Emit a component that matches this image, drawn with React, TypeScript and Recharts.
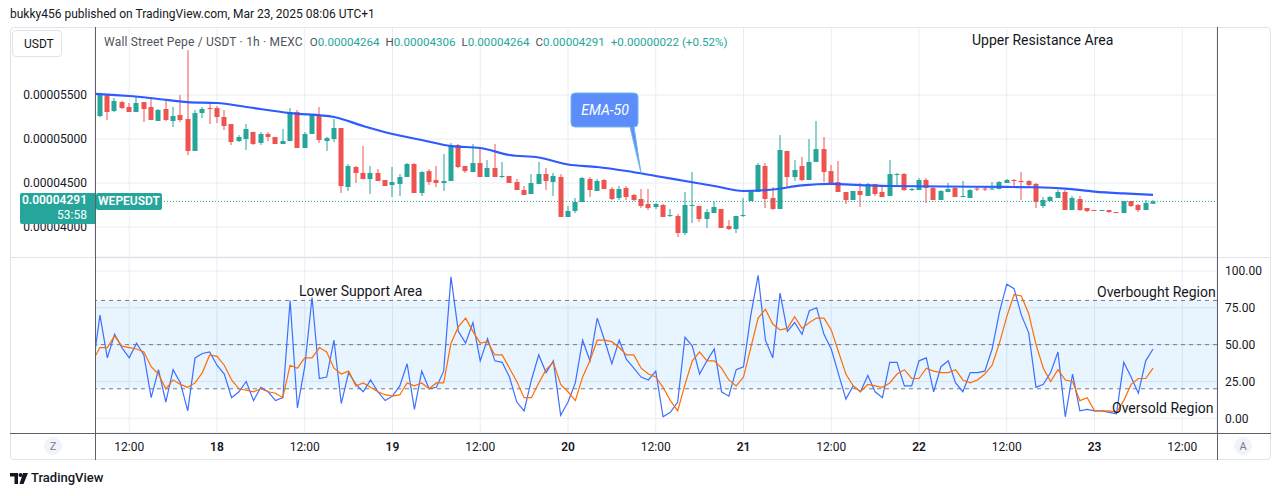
import React from "react";
import {
  ComposedChart,
  Bar,
  Line,
  XAxis,
  YAxis,
  CartesianGrid,
  ReferenceLine,
  ReferenceArea,
} from "recharts";

// WEPE/USDT 1h candles, Mar 17 08:00 -> Mar 23 08:00, prices in 1e-8 USDT
const opens = [
  5261, 5500, 5318, 5420, 5364, 5307, 5420, 5364, 5205, 5341, 5205, 5273, 5227, 4864, 5295, 5352, 5352, 5250, 5170, 4977,
  5000, 5080, 4955, 5057, 5023, 4943, 4977, 5307, 4898, 5057, 5273, 4977, 5000, 5125, 4455, 4682, 4614, 4545, 4614, 4534,
  4477, 4489, 4568, 4716, 4386, 4636, 4534, 4500, 4523, 4932, 4693, 4625, 4727, 4568, 4670, 4568, 4580, 4511, 4420, 4375,
  4489, 4602, 4511, 4568, 4114, 4182, 4284, 4545, 4409, 4534, 4432, 4330, 4443, 4364, 4318, 4261, 4227, 4250, 4125, 4125,
  3932, 4239, 4239, 4091, 4159, 4205, 4011, 3977, 4125, 4295, 4398, 4693, 4330, 4205, 4864, 4568, 4693, 4534, 4739, 4886,
  4636, 4511, 4398, 4307, 4409, 4352, 4489, 4398, 4352, 4591, 4602, 4420, 4420, 4534, 4443, 4307, 4398, 4443, 4341, 4330,
  4437, 4437, 4426, 4432, 4500, 4534, 4523, 4523, 4489, 4239, 4295, 4330, 4398, 4193, 4318, 4216, 4193, 4187, 4193, 4170,
  4159, 4295, 4250, 4193, 4264,
];
const highs = [
  5511, 5511, 5466, 5432, 5409, 5477, 5420, 5477, 5341, 5432, 5364, 5500, 6011, 5330, 5364, 5409, 5375, 5330, 5170, 5045,
  5170, 5080, 5080, 5080, 5023, 5114, 5352, 5330, 5080, 5284, 5364, 5023, 5227, 5125, 4716, 4693, 4920, 4693, 4659, 4534,
  4682, 4602, 4727, 4727, 4636, 4659, 4693, 4830, 4955, 4943, 4693, 4943, 4886, 4761, 4943, 4739, 4580, 4545, 4466, 4602,
  4739, 4670, 4614, 4602, 4239, 4330, 4568, 4568, 4545, 4545, 4455, 4466, 4466, 4375, 4432, 4432, 4273, 4261, 4205, 4148,
  4398, 4625, 4239, 4205, 4295, 4205, 4080, 4125, 4330, 4420, 4727, 4727, 4455, 5045, 4864, 4761, 4795, 5000, 5205, 5023,
  4705, 4750, 4398, 4409, 4500, 4500, 4489, 4466, 4761, 4614, 4614, 4443, 4557, 4557, 4455, 4420, 4500, 4455, 4523, 4432,
  4455, 4455, 4511, 4523, 4545, 4545, 4625, 4534, 4500, 4341, 4352, 4420, 4420, 4352, 4352, 4216, 4193, 4193, 4193, 4170,
  4295, 4295, 4261, 4307, 4306,
];
const lows = [
  5250, 5216, 5307, 5341, 5307, 5307, 5193, 5216, 5205, 5205, 5136, 5193, 4818, 4864, 5239, 5170, 5182, 5102, 4932, 4966,
  4875, 4932, 4932, 4977, 4943, 4943, 4977, 4898, 4898, 5057, 4955, 4864, 4966, 4386, 4409, 4500, 4545, 4375, 4523, 4466,
  4341, 4352, 4568, 4386, 4352, 4477, 4455, 4409, 4523, 4670, 4614, 4625, 4568, 4568, 4568, 4557, 4500, 4420, 4364, 4375,
  4489, 4420, 4352, 4114, 4114, 4159, 4284, 4341, 4409, 4432, 4307, 4307, 4307, 4295, 4216, 4193, 4205, 4114, 4114, 3886,
  3909, 4045, 4057, 3989, 4159, 3989, 3966, 3932, 4114, 4295, 4398, 4216, 4193, 4205, 4455, 4523, 4523, 4534, 4739, 4511,
  4500, 4398, 4261, 4307, 4227, 4352, 4352, 4341, 4352, 4455, 4409, 4409, 4420, 4273, 4307, 4307, 4398, 4341, 4341, 4330,
  4409, 4409, 4426, 4426, 4500, 4466, 4307, 4455, 4216, 4216, 4295, 4330, 4193, 4193, 4182, 4170, 4182, 4182, 4159, 4159,
  4159, 4227, 4170, 4193, 4264,
];
const closes = [
  5500, 5307, 5432, 5352, 5307, 5409, 5341, 5216, 5330, 5216, 5261, 5216, 4864, 5295, 5341, 5341, 5250, 5148, 4966, 5023,
  5114, 4943, 5057, 5023, 4943, 4977, 5307, 4898, 5057, 5273, 4989, 5011, 5125, 4466, 4693, 4614, 4545, 4614, 4523, 4466,
  4511, 4568, 4716, 4386, 4625, 4511, 4500, 4523, 4932, 4682, 4636, 4727, 4568, 4670, 4568, 4580, 4500, 4420, 4364, 4500,
  4602, 4523, 4580, 4114, 4182, 4284, 4557, 4420, 4523, 4432, 4318, 4432, 4341, 4307, 4239, 4216, 4261, 4114, 4136, 3932,
  4250, 4250, 4091, 4170, 4227, 3989, 3977, 4125, 4136, 4409, 4705, 4318, 4205, 4875, 4568, 4648, 4534, 4739, 4886, 4625,
  4500, 4398, 4307, 4409, 4364, 4489, 4375, 4341, 4602, 4602, 4420, 4432, 4534, 4443, 4307, 4409, 4432, 4341, 4352, 4420,
  4426, 4426, 4437, 4511, 4534, 4523, 4511, 4477, 4284, 4307, 4341, 4398, 4193, 4330, 4193, 4182, 4187, 4193, 4170, 4159,
  4295, 4239, 4193, 4273, 4291,
];

// EMA-50 read at some candles
const emaIdx = [-1, 0, 4, 8, 12, 16, 20, 26, 32, 36, 40, 44, 48, 52, 56, 60, 64, 68, 72, 76, 80, 84, 88, 92, 96, 100, 104, 108, 116, 124, 128, 132, 136, 140, 144];
const emaVals = [5515, 5511, 5489, 5455, 5420, 5409, 5364, 5295, 5250, 5148, 5057, 4989, 4920, 4898, 4818, 4790, 4710, 4682, 4636, 4580, 4523, 4466, 4409, 4426, 4472, 4489, 4477, 4466, 4460, 4455, 4452, 4437, 4403, 4381, 4364];

// Stochastic RSI (%K, %D); the lead values belong to the bar just left of the pane
const leadK = 34;
const leadD = 39;
const stochK = [
  70, 41, 57, 48, 41, 51, 43, 14, 33, 11, 33, 24, 5, 41, 44, 45, 36, 30, 14, 18,
  25, 12, 21, 18, 12, 14, 80, 7, 35, 82, 27, 28, 53, 10, 31, 23, 18, 26, 18, 12,
  15, 22, 37, 6, 32, 20, 21, 32, 96, 59, 51, 65, 39, 54, 39, 38, 28, 11, 5, 26,
  43, 31, 39, 2, 11, 24, 53, 39, 68, 53, 37, 53, 40, 34, 28, 26, 32, 1, 4, 11,
  55, 49, 30, 39, 47, 18, 15, 33, 35, 70, 97, 53, 41, 85, 59, 65, 57, 73, 75, 57,
  47, 30, 13, 22, 18, 29, 18, 14, 38, 38, 22, 22, 39, 41, 18, 35, 39, 24, 18, 31,
  31, 32, 47, 72, 91, 88, 70, 58, 21, 23, 31, 45, 1, 30, 5, 6, 5, 5, 4, 3,
  38, 28, 17, 39, 47,
];
const stochD = [
  48, 48, 56, 49, 48, 47, 45, 35, 30, 20, 26, 23, 21, 24, 31, 43, 42, 36, 26, 20,
  19, 18, 20, 18, 17, 14, 36, 34, 41, 41, 48, 45, 34, 30, 32, 22, 24, 21, 18, 16,
  15, 16, 24, 22, 24, 20, 24, 24, 51, 62, 68, 59, 51, 52, 43, 43, 34, 25, 14, 14,
  24, 33, 38, 23, 18, 12, 28, 39, 53, 53, 52, 48, 43, 43, 34, 30, 28, 21, 12, 5,
  23, 39, 45, 39, 39, 34, 26, 22, 28, 48, 68, 74, 64, 60, 61, 69, 61, 65, 68, 68,
  60, 45, 30, 22, 18, 23, 22, 21, 24, 30, 33, 27, 27, 34, 32, 31, 31, 33, 26, 24,
  26, 30, 36, 51, 69, 84, 83, 71, 50, 34, 25, 33, 26, 25, 12, 14, 5, 5, 5, 4,
  12, 23, 27, 27, 34,
];

const timeTicks = [4, 16, 28, 40, 52, 64, 76, 88, 100, 112, 124, 136, 148];
const timeLabels = ["12:00", "18", "12:00", "19", "12:00", "20", "12:00", "21", "12:00", "22", "12:00", "23", "12:00"];
const priceTicks = [4000, 4500, 5000, 5500];
const stochTicks = [0, 25, 50, 75, 100];

const GREEN = "#26a69a";
const RED = "#ef5350";
const GRID = "#e9edf3";
const TEXT = "#131722";
const X_DOMAIN: [number, number] = [-0.68, 152.75];

const emaMap = new Map(emaIdx.map((ix, j) => [ix, emaVals[j]]));
const data = [
  { i: -1, ema: emaMap.get(-1), k: leadK, d: leadD },
  ...opens.map((o, i) => ({
    i,
    open: o,
    high: highs[i],
    low: lows[i],
    close: closes[i],
    range: [lows[i], highs[i]],
    ema: emaMap.get(i),
    k: stochK[i],
    d: stochD[i],
  })),
];

function Candle(props: any) {
  const { x, y, width, height, payload } = props;
  if (!payload || payload.high == null) return null;
  const top = Math.min(y, y + height);
  const h = Math.abs(height);
  const span = payload.high - payload.low;
  const r = span > 0 ? h / span : 0;
  const yO = top + (payload.high - payload.open) * r;
  const yC = top + (payload.high - payload.close) * r;
  const color = payload.close >= payload.open ? GREEN : RED;
  const cx = Math.round(x + width / 2);
  return (
    <g>
      <rect x={cx - 0.5} y={top} width={1} height={Math.max(h, 1)} fill={color} />
      <rect x={cx - 2.5} y={Math.min(yO, yC)} width={5} height={Math.max(Math.abs(yO - yC), 1)} fill={color} />
    </g>
  );
}

function TimeTick(props: any) {
  const { x, y, payload } = props;
  const idx = timeTicks.indexOf(payload.value);
  const label = timeLabels[idx] ?? "";
  return (
    <text x={x} y={y + 10} textAnchor="middle" fontSize={12} fill={TEXT} fontWeight={label.length < 3 ? 600 : 400}>
      {label}
    </text>
  );
}

const abs = (left: number, top: number, extra: React.CSSProperties = {}): React.CSSProperties => ({
  position: "absolute",
  left,
  top,
  ...extra,
});

export default function App() {
  return (
    <div
      style={{
        position: "absolute",
        left: 0,
        top: 0,
        width: 1281,
        height: 496,
        background: "#fff",
        overflow: "hidden",
        fontFamily: "Roboto, 'Noto Sans', sans-serif",
        color: TEXT,
      }}
    >
      <div style={abs(10, 6, { fontSize: 12, lineHeight: "16px", whiteSpace: "nowrap" })}>
        bukky456 published on TradingView.com, Mar 23, 2025 08:06 UTC+1
      </div>

      {/* frame */}
      <div style={abs(10, 27, { width: 1259, height: 431, border: "1px solid #e0e3eb", borderRadius: 4 })} />

      <div style={abs(0, 27)}>
        <ComposedChart width={1217} height={230} data={data} margin={{ top: 0, right: 0, bottom: 0, left: 10 }}>
          <CartesianGrid stroke={GRID} />
          <XAxis dataKey="i" type="number" domain={X_DOMAIN} allowDataOverflow ticks={timeTicks} hide />
          <YAxis
            domain={[3659, 6273]}
            allowDataOverflow
            ticks={priceTicks}
            width={85}
            axisLine={false}
            tickLine={false}
            tick={{ fill: TEXT, fontSize: 12 }}
            tickFormatter={(v: number) => (v / 1e8).toFixed(8)}
          />
          <ReferenceLine y={4291} stroke={GREEN} strokeDasharray="1 2" />
          <Bar dataKey="range" barSize={5} shape={<Candle />} isAnimationActive={false} />
          <Line
            dataKey="ema"
            type="monotone"
            stroke="#2e5bff"
            strokeWidth={2.2}
            dot={false}
            connectNulls
            isAnimationActive={false}
          />
        </ComposedChart>
      </div>

      <div style={abs(95, 258)}>
        <ComposedChart width={1176} height={202} data={data} margin={{ top: 0, right: 0, bottom: 0, left: 0 }}>
          <CartesianGrid stroke={GRID} />
          <XAxis
            dataKey="i"
            type="number"
            domain={X_DOMAIN}
            allowDataOverflow
            ticks={timeTicks}
            height={27}
            axisLine={false}
            tickLine={false}
            tick={<TimeTick />}
          />
          <YAxis
            orientation="right"
            domain={[-10, 108.8]}
            allowDataOverflow
            ticks={stochTicks}
            width={54}
            axisLine={false}
            tickLine={false}
            tick={{ fill: TEXT, fontSize: 12 }}
            tickFormatter={(v: number) => v.toFixed(2)}
          />
          <ReferenceArea y1={20} y2={80} fill="#2196f3" fillOpacity={0.1} />
          <ReferenceLine y={80} stroke="#787b86" strokeDasharray="4 4" />
          <ReferenceLine y={50} stroke="#787b86" strokeDasharray="4 4" />
          <ReferenceLine y={20} stroke="#787b86" strokeDasharray="4 4" />
          <Line dataKey="k" type="linear" stroke="#3d6fff" strokeWidth={1.2} dot={false} isAnimationActive={false} />
          <Line dataKey="d" type="linear" stroke="#ff6d00" strokeWidth={1.2} dot={false} isAnimationActive={false} />
        </ComposedChart>
      </div>

      {/* pane borders */}
      <div style={abs(10, 257, { width: 1261, height: 1, background: "#e0e3eb" })} />
      <div style={abs(10, 433, { width: 1261, height: 1, background: "#5d606b" })} />
      <div style={abs(95, 27, { width: 1, height: 433, background: "#5d606b" })} />
      <div style={abs(1217, 27, { width: 1, height: 433, background: "#5d606b" })} />

      {/* symbol box & legend */}
      <div
        style={abs(12, 30, {
          width: 50,
          height: 27,
          border: "1px solid #e0e3eb",
          borderRadius: 4,
          fontSize: 12,
          lineHeight: "27px",
          paddingLeft: 11,
          boxSizing: "border-box",
        })}
      >
        USDT
      </div>
      <div style={abs(104, 34, { fontSize: 12, lineHeight: "16px", whiteSpace: "nowrap", color: "#50535e" })}>
        <span style={{ letterSpacing: 0.2 }}>Wall Street Pepe / USDT · 1h · MEXC</span>
        <span style={{ fontSize: 11.6 }}>
          <span style={{ marginLeft: 7 }}>O</span>
          <span style={{ color: GREEN }}>0.00004264</span>
          <span style={{ marginLeft: 6 }}>H</span>
          <span style={{ color: GREEN }}>0.00004306</span>
          <span style={{ marginLeft: 6 }}>L</span>
          <span style={{ color: GREEN }}>0.00004264</span>
          <span style={{ marginLeft: 6 }}>C</span>
          <span style={{ color: GREEN }}>0.00004291</span>
          <span style={{ marginLeft: 6, color: GREEN }}>+0.00000022 (+0.52%)</span>
        </span>
      </div>

      {/* last price labels */}
      <div
        style={abs(20, 193, {
          width: 75,
          height: 31,
          background: GREEN,
          color: "#fff",
          fontSize: 12,
          fontWeight: 600,
          textAlign: "right",
          paddingRight: 8,
          boxSizing: "border-box",
          lineHeight: "15px",
          borderRadius: "2px 0 0 2px",
        })}
      >
        <div>0.00004291</div>
        <div style={{ fontWeight: 400 }}>53:58</div>
      </div>
      <div
        style={abs(96, 193, {
          width: 66,
          height: 17,
          background: GREEN,
          color: "#fff",
          fontSize: 12,
          fontWeight: 600,
          lineHeight: "17px",
          textAlign: "center",
          borderRadius: 2,
        })}
      >
        WEPEUSDT
      </div>

      {/* annotations */}
      <div style={abs(972, 31, { fontSize: 14, lineHeight: "18px", whiteSpace: "nowrap" })}>Upper Resistance Area</div>
      <div style={abs(299, 282, { fontSize: 14, lineHeight: "18px", whiteSpace: "nowrap" })}>Lower Support Area</div>
      <div style={abs(1097, 283, { fontSize: 14, lineHeight: "18px", whiteSpace: "nowrap" })}>Overbought Region</div>
      <div style={abs(1112, 399, { fontSize: 14, lineHeight: "18px", whiteSpace: "nowrap" })}>Oversold Region</div>

      <svg style={abs(0, 0)} width={1281} height={496} pointerEvents="none">
        <path
          d="M575 93 H634 Q638 93 638 97 V123 Q638 127 634 127 L641 173 L630 127 H575 Q571 127 571 123 V97 Q571 93 575 93 Z"
          fill="#5c8dfa"
          stroke="#6fb8e8"
          strokeWidth={1}
        />
        <text x={605} y={115} textAnchor="middle" fontSize={14} fontStyle="italic" fill="#fff" fontFamily="Roboto, sans-serif">
          EMA-50
        </text>

        <circle cx={53} cy={446} r={9} fill="#f0f3fa" />
        <text x={53} y={450} textAnchor="middle" fontSize={11} fill="#787b86" fontFamily="Roboto, sans-serif">
          Z
        </text>
        <circle cx={1243} cy={446} r={9} fill="#f0f3fa" />
        <text x={1243} y={450} textAnchor="middle" fontSize={11} fill="#787b86" fontFamily="Roboto, sans-serif">
          A
        </text>

        <g fill={TEXT}>
          <path d="M10 473 H18 V484 H14.5 V476.5 H10 Z" />
          <circle cx={20.5} cy={475} r={2} />
          <path d="M23 473 H28 L23.5 484 H19.5 Z" />
        </g>
      </svg>
      <div style={abs(31, 470, { fontSize: 13, lineHeight: "16px", fontWeight: 500 })}>TradingView</div>
    </div>
  );
}
